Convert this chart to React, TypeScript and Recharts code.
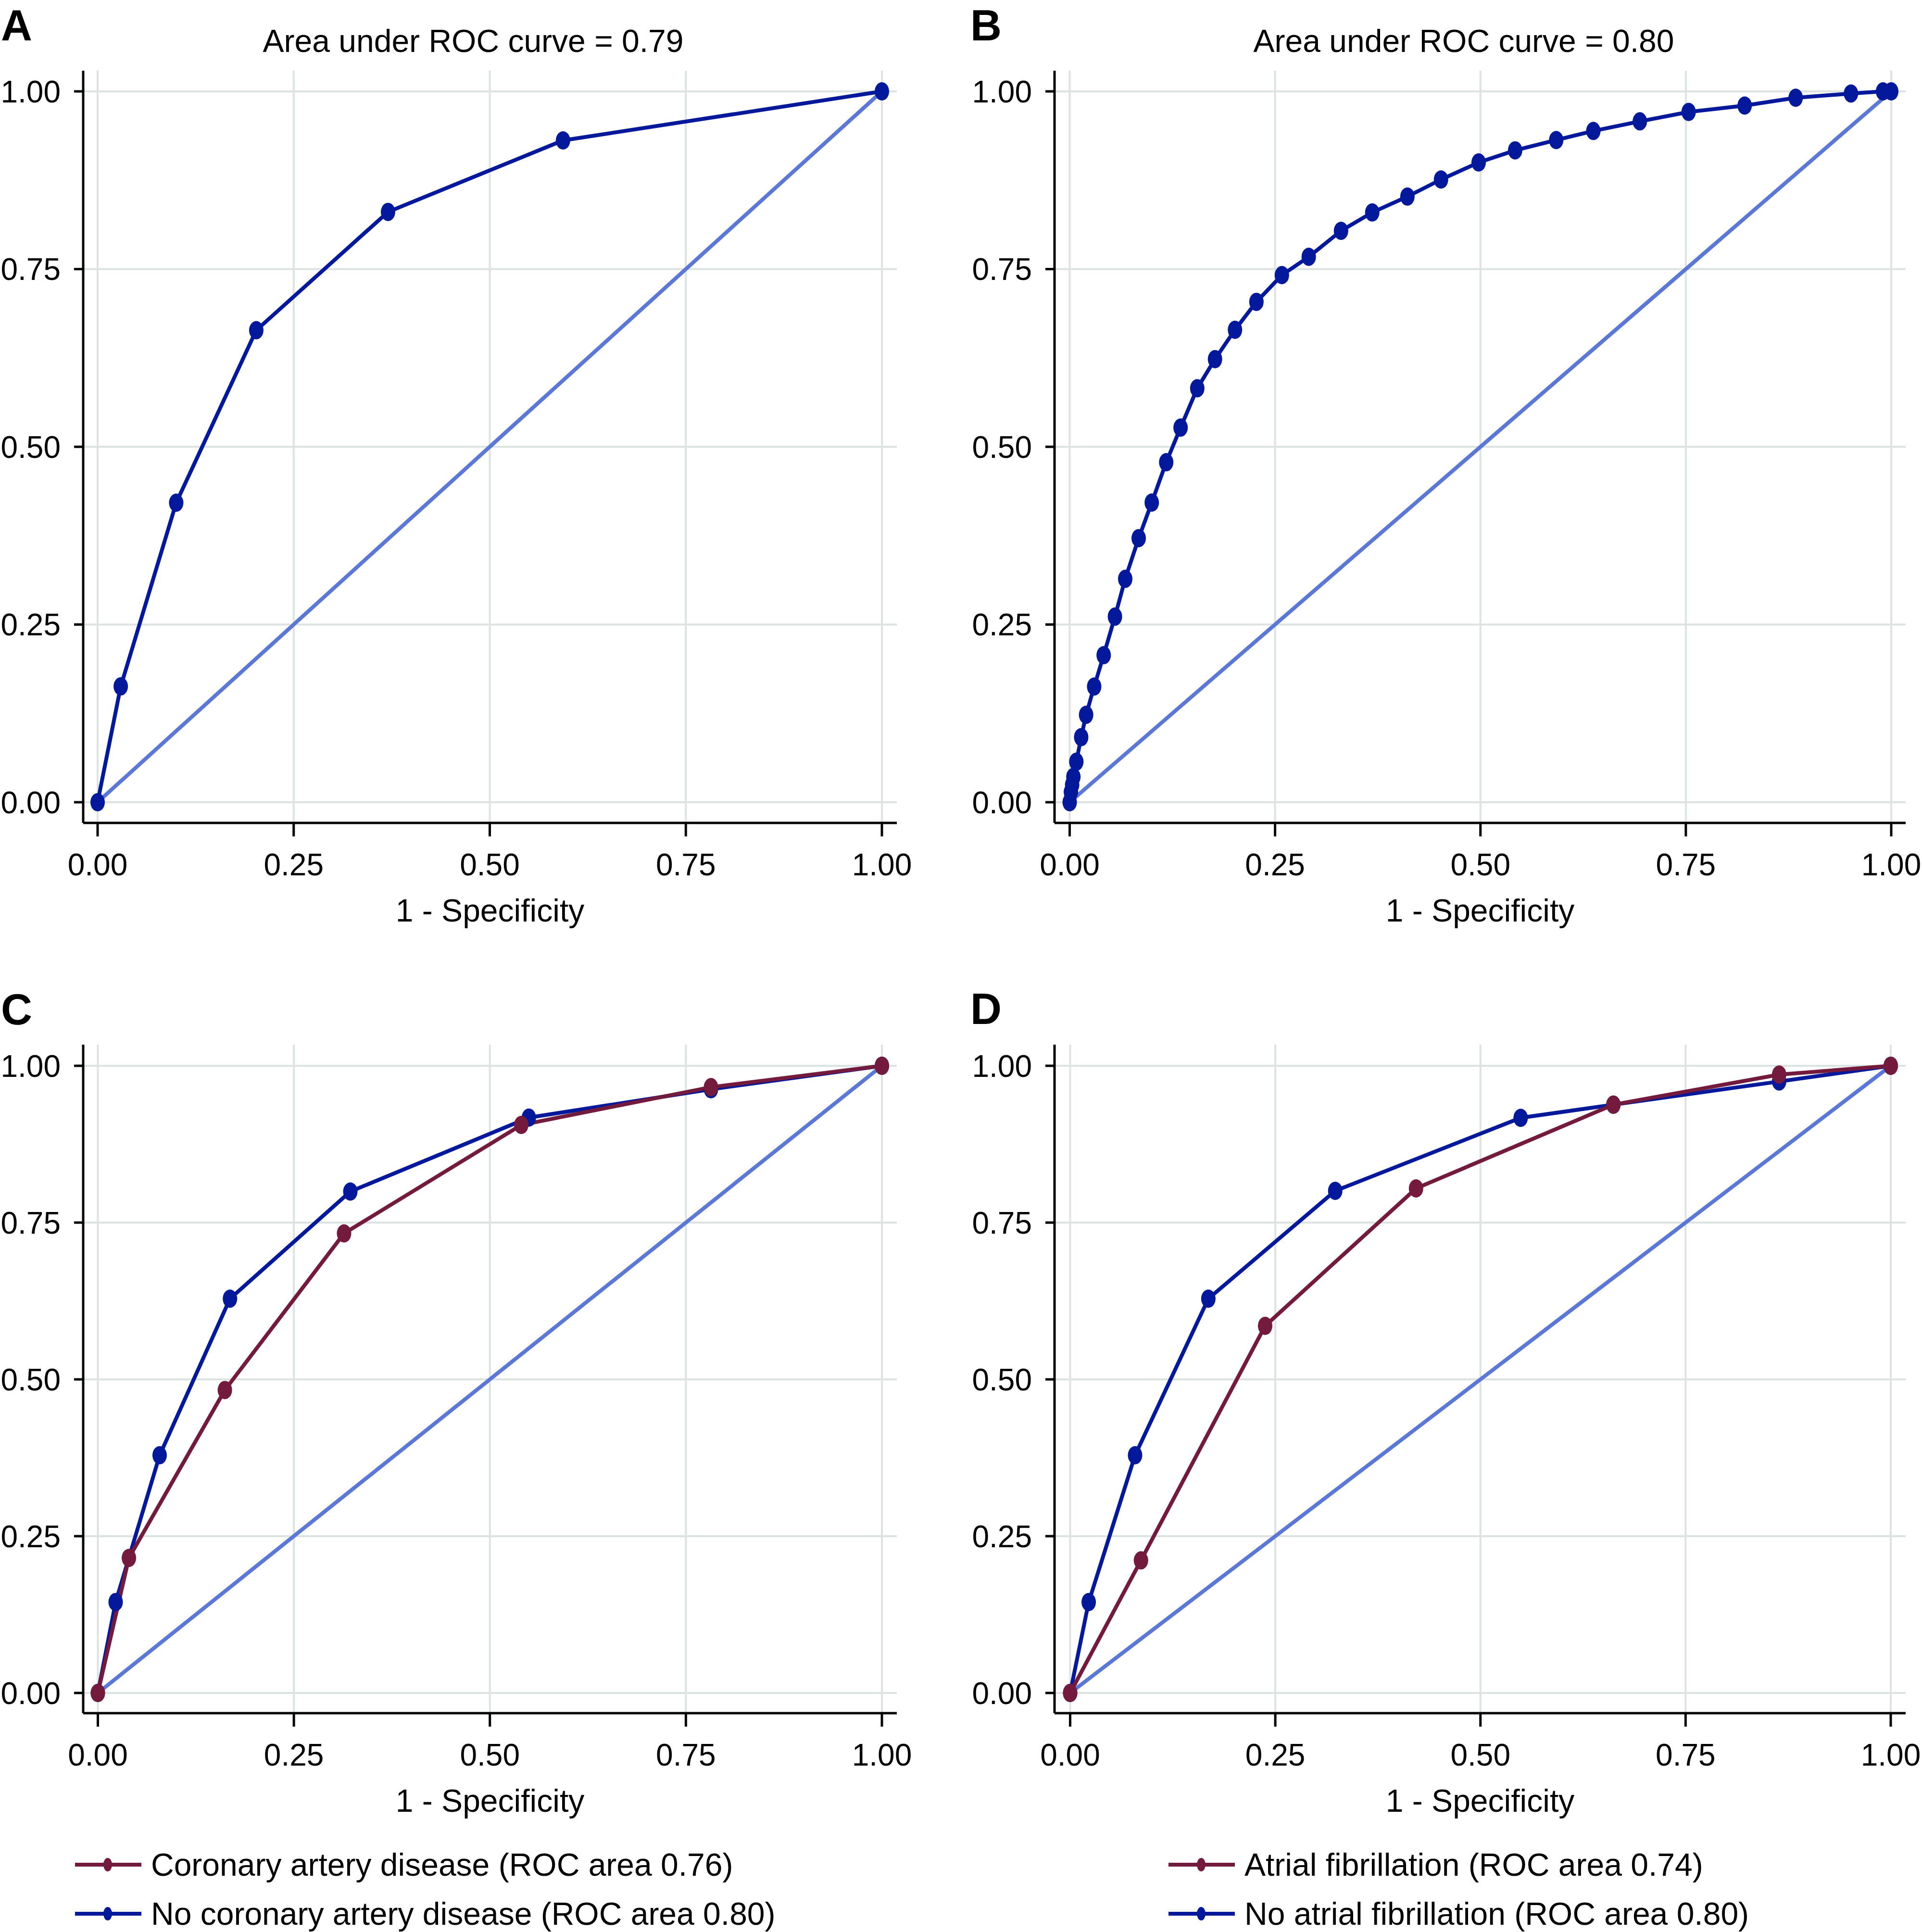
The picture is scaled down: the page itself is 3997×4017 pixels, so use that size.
import React from 'react'
import { LineChart, Line, XAxis, YAxis, CartesianGrid, Legend } from 'recharts'

const FONT = '"Liberation Sans", Arial, Helvetica, sans-serif'
const NAVY = '#03189a'
const MAROON = '#731a3d'
const REF = '#5b78d6'
const GRID = '#dde3e3'

const W = 3997
const H = 4017
const Y_AXIS_W = 160
const X_AXIS_H = 260

const axisTicks = [0, 0.25, 0.5, 0.75, 1]
const refFpr = [0, 1]
const refTpr = [0, 1]

// A: all patients
const aFpr = [0, 0.0295, 0.1002, 0.2023, 0.3703, 0.5934, 1]
const aTpr = [0, 0.163, 0.4213, 0.664, 0.8304, 0.931, 1]

// B: all patients, continuous score
const bFpr = [
  0, 0.0015, 0.003, 0.0045, 0.0081, 0.014, 0.02, 0.0298, 0.0414, 0.0551, 0.0676, 0.084,
  0.0999, 0.1175, 0.135, 0.1553, 0.1769, 0.2012, 0.2273, 0.2583, 0.291, 0.3303, 0.3683,
  0.4111, 0.452, 0.4978, 0.5422, 0.5922, 0.6374, 0.694, 0.7534, 0.8216, 0.8837, 0.951, 0.99, 1,
]
const bTpr = [
  0, 0.0144, 0.0245, 0.0357, 0.057, 0.0915, 0.123, 0.1627, 0.2069, 0.2611, 0.3142, 0.3715,
  0.4215, 0.4783, 0.527, 0.5823, 0.6233, 0.6646, 0.7039, 0.7415, 0.7673, 0.8038, 0.8297,
  0.852, 0.876, 0.9, 0.917, 0.9315, 0.9443, 0.9578, 0.9711, 0.98, 0.991, 0.997, 1, 1,
]

// C: coronary artery disease
const cCadFpr = [0, 0.0396, 0.162, 0.314, 0.54, 0.782, 1]
const cCadTpr = [0, 0.2153, 0.483, 0.7327, 0.9057, 0.966, 1]
const cNoCadFpr = [0, 0.0227, 0.0788, 0.1685, 0.322, 0.5497, 0.782, 1]
const cNoCadTpr = [0, 0.145, 0.379, 0.6286, 0.7995, 0.9174, 0.9626, 1]

// D: atrial fibrillation
const dAfFpr = [0, 0.0863, 0.2376, 0.4215, 0.662, 0.864, 1]
const dAfTpr = [0, 0.2114, 0.5853, 0.8045, 0.938, 0.986, 1]
const dNoAfFpr = [0, 0.0226, 0.0791, 0.1684, 0.323, 0.549, 0.662, 0.864, 1]
const dNoAfTpr = [0, 0.1449, 0.379, 0.6286, 0.8006, 0.917, 0.938, 0.975, 1]

const zip = (xs: number[], ys: number[]) => xs.map((x, i) => ({ x, y: ys[i] }))

// pixel geometry of each plot region: frame edges and where 0 / 1 fall
type Box = { left: number; top: number; right: number; bottom: number; x0: number; x1: number; y0: number; y1: number }
const boxA: Box = { left: 173, top: 147, right: 1865, bottom: 1711, x0: 203, x1: 1834, y0: 1668, y1: 190 }
const boxB: Box = { left: 2193, top: 147, right: 3963, bottom: 1711, x0: 2224.5, x1: 3933, y0: 1668, y1: 190 }
const boxC: Box = { left: 173, top: 2172, right: 1865, bottom: 3562, x0: 203.5, x1: 1834, y0: 3520, y1: 2216 }
const boxD: Box = { left: 2193, top: 2172, right: 3963, bottom: 3562, x0: 2225.5, x1: 3932, y0: 3520, y1: 2216 }

type Curve = { name: string; color: string; fpr: number[]; tpr: number[] }

type PanelProps = {
  box: Box
  curves: Curve[]
  letter: string
  letterX: number
  letterY: number
  title?: string
  titleX?: number
  legendLeft?: number
}

const tickStyle = { fontSize: 64, fill: '#000', fontFamily: FONT }
const fmt = (v: number) => v.toFixed(2)

// legend rows: maroon series first, like the original
const LegendBox = ({ payload }: any) => {
  const items = (payload || [])
    .filter((p: any) => p.type !== 'none')
    .slice()
    .sort((a: any, b: any) => (a.color === MAROON ? -1 : 0) - (b.color === MAROON ? -1 : 0))
  return (
    <svg width={1560} height={210} style={{ display: 'block', overflow: 'visible' }}>
      {items.map((it: any, i: number) => {
        const cy = 47 + i * 102
        return (
          <g key={i}>
            <line x1={0} x2={138} y1={cy} y2={cy} stroke={it.color} strokeWidth={8} />
            <ellipse cx={68} cy={cy} rx={9} ry={14} fill={it.color} />
            <text x={158} y={cy + 23} fontSize={66} fontFamily={FONT} fill="#000">
              {it.value}
            </text>
          </g>
        )
      })}
    </svg>
  )
}

const Panel = ({ box, curves, letter, letterX, letterY, title, titleX, legendLeft }: PanelProps) => {
  const ux = box.x1 - box.x0
  const uy = box.y0 - box.y1
  const xDomain = [(box.left - box.x0) / ux, (box.right - box.x0) / ux]
  const yDomain = [(box.y0 - box.bottom) / uy, (box.y0 - box.top) / uy]

  // grid only at the labelled ticks, not at the frame edges
  const hGen = ({ yAxis }: any) =>
    axisTicks.map((t) => (yAxis && typeof yAxis.scale === 'function' ? yAxis.scale(t) : box.y0 - t * uy))
  const vGen = ({ xAxis }: any) =>
    axisTicks.map((t) => (xAxis && typeof xAxis.scale === 'function' ? xAxis.scale(t) : box.x0 + t * ux))

  return (
    <div style={{ position: 'absolute', left: 0, top: 0 }}>
      <LineChart
        width={W}
        height={H}
        margin={{
          left: box.left - Y_AXIS_W,
          top: box.top,
          right: W - box.right,
          bottom: H - box.bottom - X_AXIS_H,
        }}
      >
        <CartesianGrid
          stroke={GRID}
          strokeWidth={4}
          horizontalCoordinatesGenerator={hGen}
          verticalCoordinatesGenerator={vGen}
        />
        <XAxis
          type="number"
          dataKey="x"
          domain={xDomain}
          ticks={axisTicks}
          interval={0}
          allowDataOverflow
          height={X_AXIS_H}
          tickSize={28}
          tickMargin={36}
          tick={tickStyle}
          tickFormatter={fmt}
          axisLine={{ stroke: '#000', strokeWidth: 5 }}
          tickLine={{ stroke: '#000', strokeWidth: 5 }}
          label={{
            content: (p: any) => {
              const vb = p.viewBox || {}
              return (
                <text
                  x={vb.x + vb.width / 2}
                  y={box.bottom + 205}
                  textAnchor="middle"
                  fontSize={66}
                  fontFamily={FONT}
                  fill="#000"
                >
                  1 - Specificity
                </text>
              )
            },
          }}
        />
        <YAxis
          type="number"
          domain={yDomain}
          ticks={axisTicks}
          interval={0}
          allowDataOverflow
          width={Y_AXIS_W}
          tickSize={19}
          tickMargin={28}
          tick={tickStyle}
          tickFormatter={fmt}
          axisLine={{ stroke: '#000', strokeWidth: 5 }}
          tickLine={{ stroke: '#000', strokeWidth: 5 }}
        />
        {curves.map((c) => (
          <Line
            key={c.name}
            name={c.name}
            data={zip(c.fpr, c.tpr)}
            dataKey="y"
            type="linear"
            stroke={c.color}
            strokeWidth={8}
            isAnimationActive={false}
            activeDot={false}
            dot={(p: any) => (
              <ellipse key={`${c.name}-${p.index}`} cx={p.cx} cy={p.cy} rx={15} ry={19} fill={c.color} />
            )}
          />
        ))}
        <Line
          name="reference"
          data={zip(refFpr, refTpr)}
          dataKey="y"
          type="linear"
          stroke={REF}
          strokeWidth={8}
          dot={false}
          activeDot={false}
          legendType="none"
          isAnimationActive={false}
        />
        {legendLeft !== undefined && (
          <Legend
            layout="vertical"
            verticalAlign="middle"
            align="center"
            wrapperStyle={{ left: legendLeft, top: 3830, width: 1560, height: 210, right: 'auto', bottom: 'auto' }}
            content={<LegendBox />}
          />
        )}
        <text x={letterX} y={letterY} fontSize={90} fontWeight="bold" fontFamily={FONT} fill="#000">
          {letter}
        </text>
        {title && (
          <text x={titleX} y={108} textAnchor="middle" fontSize={66} fontFamily={FONT} fill="#000">
            {title}
          </text>
        )}
      </LineChart>
    </div>
  )
}

export default function App() {
  return (
    <div style={{ position: 'absolute', left: 0, top: 0, width: W, height: H, background: '#fff', overflow: 'hidden' }}>
      <Panel
        box={boxA}
        curves={[{ name: 'All', color: NAVY, fpr: aFpr, tpr: aTpr }]}
        letter="A"
        letterX={2}
        letterY={84}
        title="Area under ROC curve = 0.79"
        titleX={984}
      />
      <Panel
        box={boxB}
        curves={[{ name: 'All', color: NAVY, fpr: bFpr, tpr: bTpr }]}
        letter="B"
        letterX={2018}
        letterY={84}
        title="Area under ROC curve = 0.80"
        titleX={3044}
      />
      <Panel
        box={boxC}
        curves={[
          { name: 'No coronary artery disease (ROC area 0.80)', color: NAVY, fpr: cNoCadFpr, tpr: cNoCadTpr },
          { name: 'Coronary artery disease (ROC area 0.76)', color: MAROON, fpr: cCadFpr, tpr: cCadTpr },
        ]}
        letter="C"
        letterX={2}
        letterY={2130}
        legendLeft={156}
      />
      <Panel
        box={boxD}
        curves={[
          { name: 'No atrial fibrillation (ROC area 0.80)', color: NAVY, fpr: dNoAfFpr, tpr: dNoAfTpr },
          { name: 'Atrial fibrillation (ROC area 0.74)', color: MAROON, fpr: dAfFpr, tpr: dAfTpr },
        ]}
        letter="D"
        letterX={2018}
        letterY={2129}
        legendLeft={2430}
      />
    </div>
  )
}
